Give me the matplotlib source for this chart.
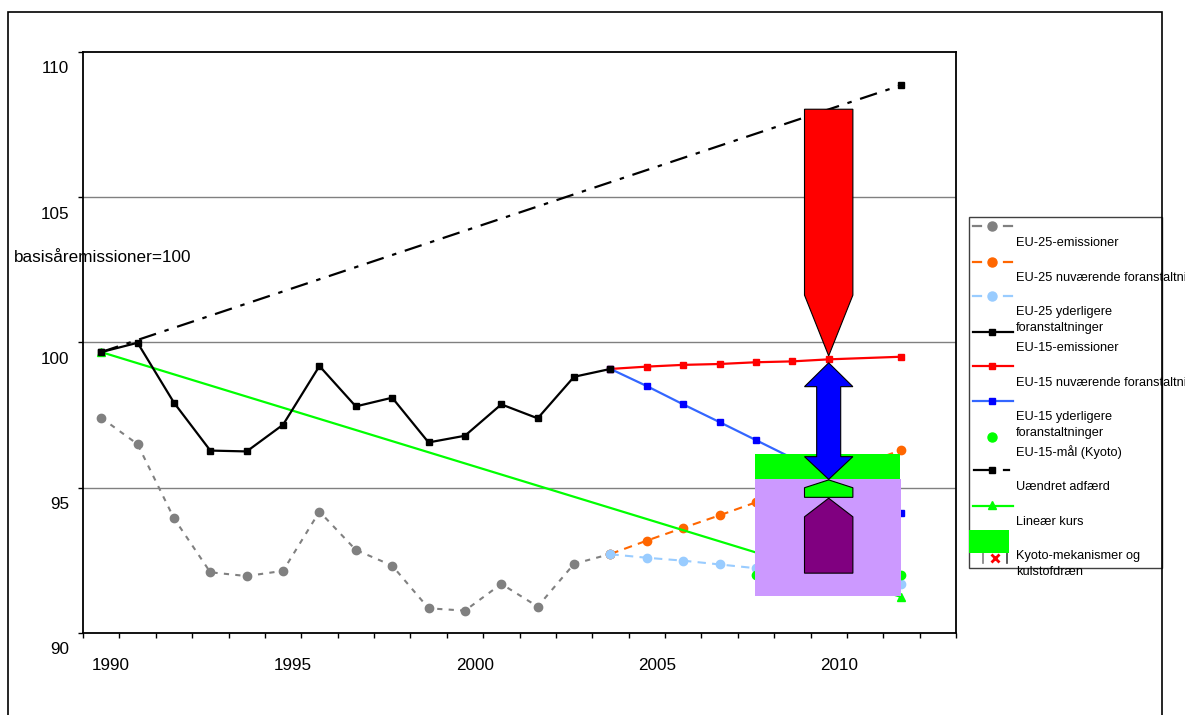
import numpy as np
import matplotlib
matplotlib.use("Agg")
import matplotlib.pyplot as plt
from matplotlib.patches import Polygon, Rectangle
from matplotlib.lines import Line2D
from matplotlib.transforms import ScaledTranslation

plt.rcParams['font.family'] = ['Liberation Sans', 'DejaVu Sans']

# index values, base year emissions = 100
years_hist = list(range(1990, 2005))
eu15_emis = [99.67, 99.99, 97.93, 96.28, 96.25, 97.17, 99.19, 97.80, 98.10,
             96.56, 96.79, 97.87, 97.39, 98.82, 99.09]
eu25_emis = [97.41, 96.50, 93.95, 92.09, 91.96, 92.14, 94.18, 92.86, 92.32,
             90.85, 90.77, 91.69, 90.91, 92.38, 92.72]

proj_years = [2004, 2005, 2006, 2007, 2008, 2009, 2010, 2012]
eu15_current = [99.09, 99.17, 99.23, 99.26, 99.32, 99.35, 99.42, 99.51]
eu15_additional = [99.09, 98.50, 97.87, 97.26, 96.64, 96.02, 95.40, 94.14]
eu25_current = [92.72, 93.18, 93.62, 94.05, 94.50, 94.95, 95.40, 96.30]
eu25_additional = [92.71, 92.59, 92.49, 92.36, 92.23, 92.10, 91.95, 91.68]

kyoto_years = [2008, 2012]
kyoto_target = [92.0, 92.0]

trend_years = [1990, 2012]
business_as_usual = [99.67, 108.86]
linear_path = [99.67, 91.24]

x_labels = [1990, 1995, 2000, 2005, 2010]
y_ticks = [90, 95, 100, 105, 110]

legend_labels = ['EU-25-emissioner', 'EU-25 nuværende foranstaltninger',
                 'EU-25 yderligere\nforanstaltninger', 'EU-15-emissioner',
                 'EU-15 nuværende foranstaltninger',
                 'EU-15 yderligere\nforanstaltninger', 'EU-15-mål (Kyoto)',
                 'Uændret adfærd', 'Lineær kurs',
                 'Kyoto-mekanismer og\nkulstofdræn']

W, H = 1185, 715
fig = plt.figure(figsize=(W / 100, H / 100), dpi=100)
ax = fig.add_axes([83 / W, 1 - 633 / H, (956 - 83) / W, (633 - 52) / H])


def fpx(x, y):
    # pixel position (from top left) -> figure fraction
    return x / W, 1 - y / H


ax.set_xlim(1989.5, 2013.5)
ax.set_ylim(90, 110)
ax.set_xticks(np.arange(1989.5, 2014, 1))
ax.set_yticks(y_ticks)
ax.set_xticklabels([])
ax.set_yticklabels([])
ax.tick_params(direction='out', length=3.8, width=1, color='black')
for s in ax.spines.values():
    s.set_linewidth(1.3)
for v in y_ticks[1:-1]:
    ax.axhline(v, color='#808080', lw=1, zorder=1)

ytr = ax.get_yaxis_transform() + ScaledTranslation(-0.14, -0.17, fig.dpi_scale_trans)
for v in y_ticks:
    ax.text(0, v, str(v), transform=ytr, ha='right', va='center', fontsize=12.3)
xtr = ax.get_xaxis_transform() + ScaledTranslation(0.10, -0.32, fig.dpi_scale_trans)
for yr in x_labels:
    ax.text(yr, 0, str(yr), transform=xtr, ha='center', va='center', fontsize=12.3)

fig.text(*fpx(14, 257.7), 'basisåremissioner=100', ha='left', va='center',
         fontsize=12.3)

# series
ax.plot(years_hist, eu25_emis, color='#808080', lw=1.5, ls=(0, (2.5, 3)),
        marker='o', ms=6, mec='#808080', zorder=3)
ax.plot(proj_years, eu25_current, color='#FF6600', lw=1.5, ls=(0, (4, 3)),
        marker='o', ms=6, zorder=3)
ax.plot(proj_years, eu25_additional, color='#99CCFF', lw=1.5, ls=(0, (4, 3)),
        marker='o', ms=6, zorder=3)
ax.plot(years_hist, eu15_emis, color='black', lw=1.6, marker='s', ms=5, zorder=4)
ax.plot(proj_years, eu15_current, color='#FF0000', lw=1.6, marker='s', ms=5, zorder=3)
ax.plot(proj_years, eu15_additional, color='#3366FF', lw=1.6, marker='s', ms=5,
        mfc='#0000FF', mec='#0000FF', zorder=3)
ax.plot(kyoto_years, kyoto_target, ls='none', marker='o', ms=6, color='#00FF00', zorder=3)
ax.plot(trend_years, business_as_usual, color='black', lw=1.6,
        ls=(0, (8, 4, 2, 4)), marker='s', ms=4, zorder=3)
ax.plot(trend_years, linear_path, color='#00FF00', lw=1.6, marker='^', ms=6, zorder=3)


# arrows and boxes around 2010
def arrow_shape(xc, half, base, shoulder, tip):
    return [(xc - half, base), (xc + half, base), (xc + half, shoulder),
            (xc, tip), (xc - half, shoulder)]


xc, half = 2010, 0.665
ax.add_patch(Rectangle((2007.975, 95.29), 3.975, 96.16 - 95.29,
                       facecolor='#00FF00', edgecolor='none', zorder=5))
ax.add_patch(Rectangle((2007.975, 91.27), 4.015, 95.29 - 91.27,
                       facecolor='#CC99FF', edgecolor='none', zorder=5))
ax.add_patch(Polygon(arrow_shape(xc, half, 108.03, 101.63, 99.54),
                     facecolor='#FF0000', edgecolor='black', lw=0.8, zorder=6))
shaft = 0.33
blue = [(xc, 99.30), (xc + half, 98.48), (xc + shaft, 98.48), (xc + shaft, 96.07),
        (xc + half, 96.07), (xc, 95.29), (xc - half, 96.07), (xc - shaft, 96.07),
        (xc - shaft, 98.48), (xc - half, 98.48)]
ax.add_patch(Polygon(blue, facecolor='#0000FF', edgecolor='black', lw=0.8, zorder=6))
chevron = [(xc - half, 94.67), (xc - half, 95.00), (xc, 95.27),
           (xc + half, 95.00), (xc + half, 94.67)]
ax.add_patch(Polygon(chevron, facecolor='#00FF00', edgecolor='black', lw=0.8, zorder=6))
ax.add_patch(Polygon(arrow_shape(xc, half, 92.06, 94.0, 94.64),
                     facecolor='#800080', edgecolor='black', lw=0.8, zorder=6))

# legend box
fig.add_artist(Rectangle(fpx(968.7, 567.7), (1162 - 968.7) / W, (567.7 - 216.7) / H,
                         transform=fig.transFigure, facecolor='white',
                         edgecolor='#404040', lw=1, zorder=2))


def leg_line(x0, x1, y, **kw):
    fig.add_artist(Line2D([x0 / W, x1 / W], [1 - y / H, 1 - y / H],
                          transform=fig.transFigure, zorder=4, **kw))


def leg_mark(x, y, **kw):
    fig.add_artist(Line2D([x / W], [1 - y / H], transform=fig.transFigure,
                          ls='none', zorder=5, **kw))


for y, c in [(226, '#808080'), (261.7, '#FF6600'), (295.7, '#99CCFF')]:
    leg_line(973, 981, y, color=c, lw=1.6)
    leg_line(1004, 1012, y, color=c, lw=1.6)
    leg_mark(992, y, marker='o', ms=6.5, color=c)
for y, lc, mc in [(331.7, 'black', 'black'), (366, '#FF0000', '#FF0000'),
                  (400.7, '#3366FF', '#0000FF')]:
    leg_line(973, 1013, y, color=lc, lw=1.6)
    leg_mark(992, y, marker='s', ms=5, color=mc)
leg_mark(992, 436.7, marker='o', ms=6.5, color='#00FF00')
leg_line(974, 992, 470, color='black', lw=1.6)
leg_line(1004, 1009, 470, color='black', lw=1.6)
leg_mark(992, 470, marker='s', ms=4, color='black')
leg_line(973, 1013, 505.7, color='#00FF00', lw=1.6)
leg_mark(992, 505, marker='^', ms=6, color='#00FF00')
fig.add_artist(Rectangle(fpx(969.3, 552.7), (1009 - 969.3) / W, (552.7 - 530) / H,
                         transform=fig.transFigure, facecolor='#00FF00',
                         edgecolor='none', zorder=4))
fig.add_artist(Line2D([982.7 / W] * 2, [1 - 553 / H, 1 - 563 / H],
                      transform=fig.transFigure, color='#808080', lw=1.2, zorder=3))
fig.add_artist(Line2D([1006.7 / W] * 2, [1 - 553 / H, 1 - 563 / H],
                      transform=fig.transFigure, color='#404040', lw=1.2, zorder=3))
leg_mark(995, 558.3, marker='x', ms=6, mew=2, color='#FF0000')

text_rows = [242.7, 278.3, 319.7, 347.7, 383.3, 424.7, 451.7, 486.7, 522.3, 564.2]
for y, lab in zip(text_rows, legend_labels):
    fig.text(*fpx(1016, y), lab, ha='left', va='center', fontsize=9.2,
             linespacing=1.42)

# chart area border
fig.add_artist(Rectangle((8.3 / W, -0.1), (1162 - 8.3) / W, 1.1 - 12.3 / H,
                         transform=fig.transFigure, facecolor='none',
                         edgecolor='black', lw=1.2, zorder=21))

fig.savefig('out.png', dpi=100)
